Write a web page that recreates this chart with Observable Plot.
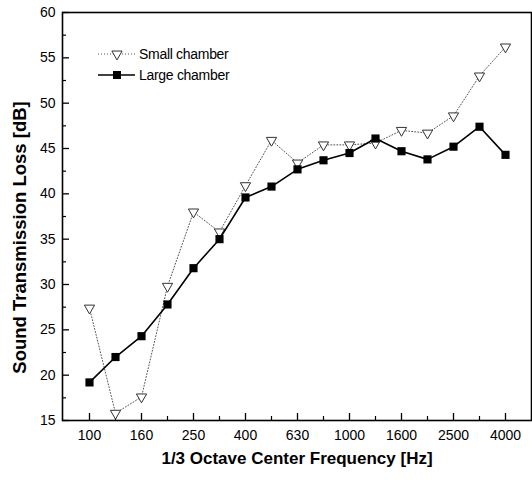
<!DOCTYPE html>
<html><head><meta charset="utf-8">
<script src="https://cdn.jsdelivr.net/npm/d3@7"></script>
<script src="https://cdn.jsdelivr.net/npm/@observablehq/plot@0.6"></script>
<style>
body{margin:0;background:#fff;}
#wrap{position:relative;width:532px;height:480px;font-family:"Liberation Sans",Arial,sans-serif;}
#legend{position:absolute;left:0;top:0;pointer-events:none;}
</style></head><body>
<div id="wrap"><div id="chart"></div><svg id="legend" width="532" height="480"></svg></div>
<script>
const frequencies = ["100","125","160","200","250","315","400","500","630","800","1000","1250","1600","2000","2500","3150","4000"];
const tickLabels = ["100","160","250","400","630","1000","1600","2500","4000"];
const smallChamber = [27.4, 15.8, 17.6, 29.8, 38.0, 35.8, 40.9, 45.9, 43.4, 45.4, 45.4, 45.6, 47.0, 46.7, 48.6, 53.0, 56.2];
const largeChamber = [19.2, 22.0, 24.3, 27.8, 31.8, 35.0, 39.6, 40.8, 42.7, 43.7, 44.5, 46.1, 44.7, 43.8, 45.2, 47.4, 44.3];
const yMajorTicks = [15, 20, 25, 30, 35, 40, 45, 50, 55, 60];
const yMinorTicks = [17.5, 22.5, 27.5, 32.5, 37.5, 42.5, 47.5, 52.5, 57.5];
const seriesNames = ["Small chamber", "Large chamber"];
const xTitle = "1/3 Octave Center Frequency [Hz]";
const yTitle = "Sound Transmission Loss [dB]";

const xMinor = frequencies.filter(f => !tickLabels.includes(f));
const smallData = frequencies.map((f, i) => ({f, v: smallChamber[i]}));
const largeData = frequencies.map((f, i) => ({f, v: largeChamber[i]}));

const W = 532, H = 480, mL = 62, mR = 1, mT = 12, mB = 60;
const pw = W - mL - mR, ph = H - mT - mB;

const chart = Plot.plot({
  width: W, height: H,
  marginLeft: mL, marginRight: mR, marginTop: mT, marginBottom: mB,
  style: {fontFamily: '"Liberation Sans", Arial, sans-serif', fontSize: "14px", color: "#000", background: "#fff"},
  x: {type: "point", domain: frequencies, padding: 1},
  y: {domain: [15, 60]},
  marks: [
    Plot.axisX({ticks: tickLabels, tickSize: 0, tickPadding: 10, label: null, fontSize: 14}),
    Plot.axisY({ticks: yMajorTicks, tickSize: 0, tickPadding: 7, label: null, fontSize: 14}),
    Plot.tickX(tickLabels, {x: d => d, insetTop: ph - 7, stroke: "#000", strokeWidth: 1.3}),
    Plot.tickX(xMinor, {x: d => d, insetTop: ph - 4, stroke: "#000", strokeWidth: 1.2}),
    Plot.tickY(yMajorTicks, {y: d => d, insetRight: pw - 7, stroke: "#000", strokeWidth: 1.3}),
    Plot.tickY(yMinorTicks, {y: d => d, insetRight: pw - 4, stroke: "#000", strokeWidth: 1.2}),
    Plot.line(smallData, {x: "f", y: "v", stroke: "#555", strokeWidth: 1, strokeDasharray: "1,2"}),
    Plot.dot(smallData, {x: "f", y: "v", symbol: "triangle", rotate: 180, r: 3.8, fill: "#fff", stroke: "#333", strokeWidth: 1}),
    Plot.line(largeData, {x: "f", y: "v", stroke: "#000", strokeWidth: 1.6}),
    Plot.dot(largeData, {x: "f", y: "v", symbol: "square", r: 4.6, fill: "#000", stroke: "none"}),
    Plot.frame({stroke: "#000", strokeWidth: 1.6}),
    Plot.text([xTitle], {frameAnchor: "bottom", dy: 43, fontSize: 17, fontWeight: "bold"}),
    Plot.text([yTitle], {frameAnchor: "left", textAnchor: "middle", dx: -42, dy: 21, rotate: -90, fontSize: 18.5, fontWeight: "bold"})
  ]
});
document.getElementById("chart").appendChild(chart);

// Legend (inside plot area, top-left)
const lg = d3.select("#legend");
const rows = [
  {name: seriesNames[0], dash: "1,2", stroke: "#555", sw: 1, sym: "tri"},
  {name: seriesNames[1], dash: null, stroke: "#000", sw: 1.6, sym: "sq"}
];
rows.forEach((r, i) => {
  const y = 54 + i * 21;
  const g = lg.append("g");
  g.append("line").attr("x1", 98).attr("x2", 135).attr("y1", y).attr("y2", y)
    .attr("stroke", r.stroke).attr("stroke-width", r.sw).attr("stroke-dasharray", r.dash);
  if (r.sym === "tri") {
    g.append("path").attr("d", d3.symbol(d3.symbolTriangle, Math.PI * 3.8 * 3.8)()).attr("transform", `translate(117,${y}) rotate(180)`)
      .attr("fill", "#fff").attr("stroke", "#333");
  } else {
    g.append("rect").attr("x", 113).attr("y", y - 4).attr("width", 8).attr("height", 8).attr("fill", "#000");
  }
  g.append("text").attr("x", 139).attr("y", y).attr("dy", "0.35em")
    .attr("font-size", 14).attr("letter-spacing", -0.3).attr("fill", "#000").text(r.name);
});
</script>
</body></html>
